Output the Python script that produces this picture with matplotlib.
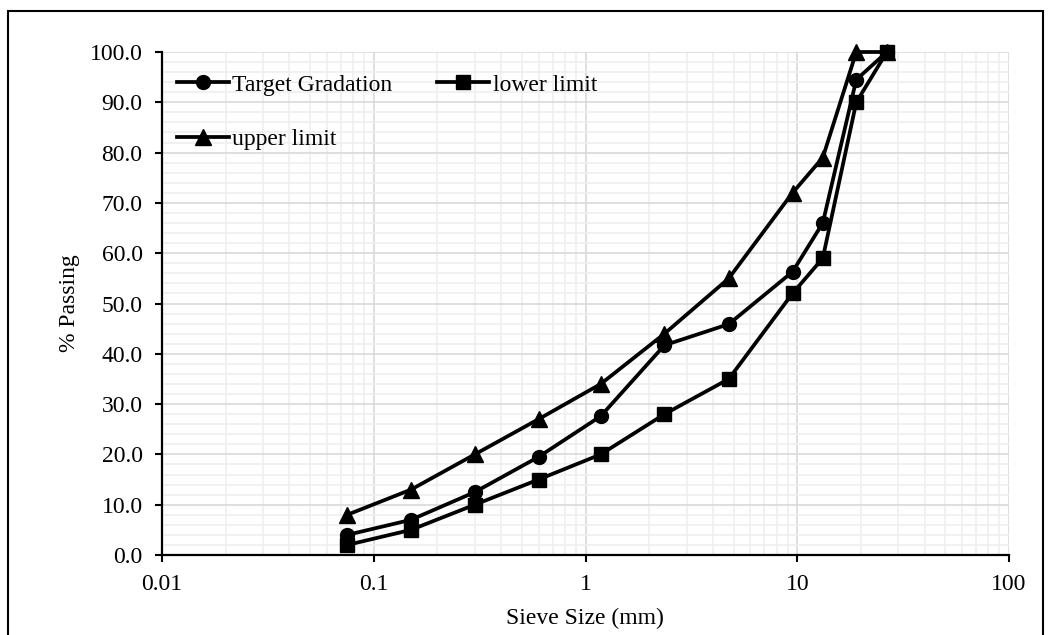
import matplotlib
matplotlib.use("Agg")
import matplotlib.pyplot as plt
from matplotlib.ticker import FixedLocator, LogLocator, MultipleLocator, FuncFormatter, NullFormatter
from matplotlib.patches import Rectangle

sieve_mm = [0.075, 0.15, 0.3, 0.6, 1.18, 2.36, 4.75, 9.5, 13.2, 19, 26.5]
target = [4.0, 7.0, 12.5, 19.5, 27.6, 41.7, 45.9, 56.3, 66.0, 94.5, 100.0]
lower = [2.0, 5.0, 10.0, 15.0, 20.0, 28.0, 35.0, 52.0, 59.0, 90.0, 100.0]
upper = [8.0, 13.0, 20.0, 27.0, 34.0, 44.0, 55.0, 72.0, 79.0, 100.0, 100.0]
x_ticks = [0.01, 0.1, 1, 10, 100]
x_tick_labels = ["0.01", "0.1", "1", "10", "100"]

plt.rcParams['font.family'] = ['Liberation Serif', 'DejaVu Serif']
FS = 17

W, H = 1048, 635
fig = plt.figure(figsize=(W / 100, H / 100), dpi=100)
ax = fig.add_axes([162 / W, 1 - 555 / H, (1009 - 162) / W, (555 - 52) / H])

lw = 2.7
h1, = ax.plot(sieve_mm, target, color='black', lw=lw, marker='o', ms=10, label='Target Gradation', zorder=3, clip_on=False)
h2, = ax.plot(sieve_mm, lower, color='black', lw=lw, marker='s', ms=10.5, label='lower limit', zorder=3, clip_on=False)
h3, = ax.plot(sieve_mm, upper, color='black', lw=lw, marker='^', ms=11, label='upper limit', zorder=3, clip_on=False)

ax.set_xscale('log')
ax.set_xlim(0.01, 100)
ax.set_ylim(0, 100)

ax.xaxis.set_major_locator(FixedLocator(x_ticks))
ax.set_xticklabels(x_tick_labels)
ax.xaxis.set_minor_locator(LogLocator(base=10, subs=range(2, 10)))
ax.xaxis.set_minor_formatter(NullFormatter())
ax.yaxis.set_major_locator(MultipleLocator(10))
ax.yaxis.set_minor_locator(MultipleLocator(2))
ax.yaxis.set_major_formatter(FuncFormatter(lambda v, p: f"{v:.1f}"))

ax.grid(which='major', color='#d9d9d9', lw=1.2, zorder=0)
ax.grid(which='minor', color='#efefef', lw=1.2, zorder=0)
ax.set_axisbelow(True)

for s in ['top', 'right']:
    ax.spines[s].set_visible(False)
for s in ['left', 'bottom']:
    ax.spines[s].set_linewidth(1.6)
    ax.spines[s].set_color('black')

ax.tick_params(which='major', direction='out', length=5, width=1.5, labelsize=FS, pad=9)
ax.tick_params(which='minor', length=0)

ax.set_xlabel('Sieve Size (mm)', fontsize=FS)
ax.set_ylabel('% Passing', fontsize=FS)
ax.xaxis.set_label_coords((585 - 162) / (1009 - 162), -(608 - 555) / (555 - 52))
ax.yaxis.set_label_coords(-(162 - 80) / (1009 - 162), 0.5)

leg = ax.legend(handles=[h1, h3, h2], loc='upper left', ncol=2, frameon=False,
                fontsize=FS, bbox_to_anchor=(15 / 847, 1 - 22 / 503),
                borderpad=0, borderaxespad=0, handlelength=2.2, handletextpad=0.15,
                labelspacing=1.4, columnspacing=1.9)

fig.patches.append(Rectangle((8 / W, -0.05), (1043 - 8) / W, 1.05 - 11 / H,
                             transform=fig.transFigure, fill=False, ec='black', lw=1.5))

fig.savefig('out.png', dpi=100)
